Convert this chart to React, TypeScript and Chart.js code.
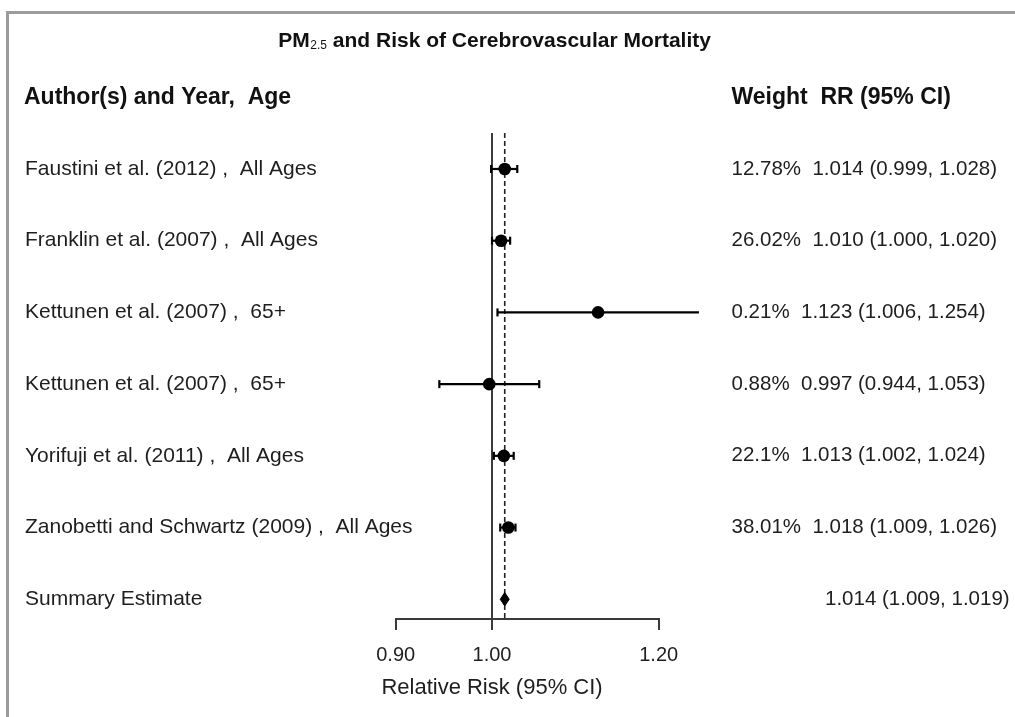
import React, { useEffect, useRef } from 'react';
import { Chart, registerables } from 'chart.js';

Chart.register(...registerables);

// ---------- data ----------
const studyLabels = [
  'Faustini et al. (2012) ,  All Ages',
  'Franklin et al. (2007) ,  All Ages',
  'Kettunen et al. (2007) ,  65+',
  'Kettunen et al. (2007) ,  65+',
  'Yorifuji et al. (2011) ,  All Ages',
  'Zanobetti and Schwartz (2009) ,  All Ages',
];
const weights = ['12.78%', '26.02%', '0.21%', '0.88%', '22.1%', '38.01%'];
const rrValues = [1.014, 1.01, 1.123, 0.997, 1.013, 1.018];
const lowerCI = [0.999, 1.0, 1.006, 0.944, 1.002, 1.009];
const upperCI = [1.028, 1.02, 1.254, 1.053, 1.024, 1.026];
const summaryLabel = 'Summary Estimate';
const summaryValues = [1.014, 1.009, 1.019]; // rr, lower, upper
const xTickValues = [0.9, 1.0, 1.2];
const nullValue = 1.0;
const leftHeader = 'Author(s) and Year,  Age';
const rightHeader = 'Weight  RR (95% CI)';
const xAxisTitle = 'Relative Risk (95% CI)';
const titleParts = ['PM', '2.5', ' and Risk of Cerebrovascular Mortality'];

// ---------- layout / style constants ----------
const W = 1015;
const H = 717;
const FONT = '"Liberation Sans", Arial, Helvetica, sans-serif';
const TEXT = '#1e1e1e';
const LINE = '#3a3a3a';
const Y_MIN = -0.5;
const Y_MAX = 7.275;
const REF_TOP = 0.5;
const DIAMOND_HALF = 0.093;
const LEFT_X = 25;
const RIGHT_X = 731.5;
const SUMMARY_RIGHT_X = 825;

const rowLabels = [leftHeader, ...studyLabels, summaryLabel];
const summaryRow = studyLabels.length + 1;

const fmt3 = (v: number) => v.toFixed(3);
const rightTexts = rrValues.map(
  (v, i) => `${weights[i]}  ${fmt3(v)} (${fmt3(lowerCI[i])}, ${fmt3(upperCI[i])})`
);
const summaryText = `${fmt3(summaryValues[0])} (${fmt3(summaryValues[1])}, ${fmt3(summaryValues[2])})`;

const textPlugin = {
  id: 'forestText',
  afterDraw(chart: any) {
    const { ctx } = chart;
    const ys = chart.scales.y;
    const xs = chart.scales.x;
    ctx.save();
    ctx.textAlign = 'left';
    ctx.textBaseline = 'middle';

    // headers
    ctx.font = `bold 23px ${FONT}`;
    ctx.fillStyle = '#111';
    ctx.fillText(rowLabels[0], LEFT_X - 1, ys.getPixelForValue(0));
    ctx.fillText(rightHeader, RIGHT_X, ys.getPixelForValue(0));

    // left labels
    ctx.fillStyle = TEXT;
    ctx.font = `21px ${FONT}`;
    for (let i = 1; i < rowLabels.length; i++) {
      ctx.fillText(rowLabels[i], LEFT_X, ys.getPixelForValue(i));
    }

    // right column
    ctx.font = `20.5px ${FONT}`;
    rightTexts.forEach((t, i) => ctx.fillText(t, RIGHT_X, ys.getPixelForValue(i + 1)));
    ctx.fillText(summaryText, SUMMARY_RIGHT_X, ys.getPixelForValue(summaryRow));

    // x axis title centred at the null value
    ctx.textAlign = 'center';
    ctx.font = `22px ${FONT}`;
    ctx.fillText(xAxisTitle, xs.getPixelForValue(nullValue), 688);

    // main title with subscript
    ctx.textAlign = 'left';
    ctx.textBaseline = 'alphabetic';
    ctx.fillStyle = '#111';
    let x = 278.3;
    const base = 47.3;
    ctx.font = `bold 21px ${FONT}`;
    ctx.fillText(titleParts[0], x, base);
    x += ctx.measureText(titleParts[0]).width;
    ctx.font = `12px ${FONT}`;
    ctx.fillText(titleParts[1], x + 0.5, base + 1.8);
    x += ctx.measureText(titleParts[1]).width + 0.5;
    ctx.font = `bold 21px ${FONT}`;
    ctx.fillText(titleParts[2], x, base);
    ctx.restore();
  },
};

export default function App() {
  const ref = useRef<HTMLCanvasElement>(null);

  useEffect(() => {
    const dotData = rrValues.map((v, i) => ({ x: v, y: i + 1 }));
    const barSets = rrValues.map((_, i) => ({
      label: `ci${i}`,
      data: [
        { x: lowerCI[i], y: i + 1 },
        { x: upperCI[i], y: i + 1 },
      ],
      showLine: true,
      borderColor: '#000',
      borderWidth: 2.2,
      pointStyle: 'line',
      rotation: 90,
      pointRadius: 4,
      pointBorderWidth: 2.2,
      pointBorderColor: '#000',
      clip: false,
    }));
    const [sRR, sLo, sHi] = summaryValues;
    const datasets: any[] = [
      {
        label: 'estimates',
        data: dotData,
        pointRadius: 6.3,
        pointBackgroundColor: '#000',
        pointBorderWidth: 0,
        showLine: false,
        clip: false,
      },
      {
        label: 'summary',
        data: [
          { x: sLo, y: summaryRow },
          { x: sRR, y: summaryRow - DIAMOND_HALF },
          { x: sHi, y: summaryRow },
          { x: sRR, y: summaryRow + DIAMOND_HALF },
          { x: sLo, y: summaryRow },
        ],
        showLine: true,
        fill: 'shape',
        backgroundColor: '#000',
        borderColor: '#000',
        borderWidth: 1,
        pointRadius: 0,
        tension: 0,
        clip: false,
      },
      ...barSets,
      {
        label: 'summaryLine',
        data: [
          { x: sRR, y: REF_TOP },
          { x: sRR, y: Y_MAX },
        ],
        showLine: true,
        borderColor: '#222',
        borderWidth: 1.6,
        borderDash: [5, 3],
        pointRadius: 0,
        clip: false,
      },
      {
        label: 'nullLine',
        data: [
          { x: nullValue, y: REF_TOP },
          { x: nullValue, y: Y_MAX },
        ],
        showLine: true,
        borderColor: LINE,
        borderWidth: 2,
        pointRadius: 0,
        clip: false,
      },
    ];

    const chart = new Chart(ref.current as HTMLCanvasElement, {
      type: 'scatter',
      data: { datasets },
      options: {
        responsive: false,
        animation: false,
        devicePixelRatio: 1,
        events: [],
        layout: { padding: { left: 25, right: W - 658.7, top: 61.4, bottom: 0 } },
        plugins: { legend: { display: false }, tooltip: { enabled: false }, title: { display: false } },
        scales: {
          x: {
            type: 'logarithmic',
            position: 'bottom',
            min: xTickValues[0],
            max: xTickValues[xTickValues.length - 1],
            afterBuildTicks: (s: any) => {
              s.ticks = xTickValues.map((v) => ({ value: v }));
            },
            afterFit: (s: any) => {
              s.height = H - 619;
            },
            border: { display: true, color: LINE, width: 2 },
            grid: { drawOnChartArea: false, drawTicks: true, tickLength: 11, color: LINE, lineWidth: 2 },
            ticks: {
              autoSkip: false,
              maxRotation: 0,
              padding: 13,
              color: TEXT,
              font: { family: FONT, size: 20 },
              callback: (v: any) => Number(v).toFixed(2),
            },
          },
          y: {
            type: 'linear',
            position: 'left',
            reverse: true,
            min: Y_MIN,
            max: Y_MAX,
            afterBuildTicks: (s: any) => {
              s.ticks = rowLabels.map((_, i) => ({ value: i }));
            },
            afterFit: (s: any) => {
              s.width = 658.7 - 263 - 25;
            },
            border: { display: false },
            grid: { display: false },
            ticks: { display: false },
          },
        },
      } as any,
      plugins: [textPlugin],
    });
    return () => chart.destroy();
  }, []);

  return (
    <div
      style={{
        position: 'fixed',
        left: 0,
        top: 0,
        width: W,
        height: H,
        background: '#fff',
        overflow: 'hidden',
      }}
    >
      <div
        style={{
          position: 'absolute',
          left: 6,
          top: 11,
          right: 0,
          bottom: 0,
          borderLeft: '3px solid #9c9c9c',
          borderTop: '3px solid #9c9c9c',
        }}
      />
      <canvas ref={ref} width={W} height={H} style={{ position: 'absolute', left: 0, top: 0 }} />
    </div>
  );
}
